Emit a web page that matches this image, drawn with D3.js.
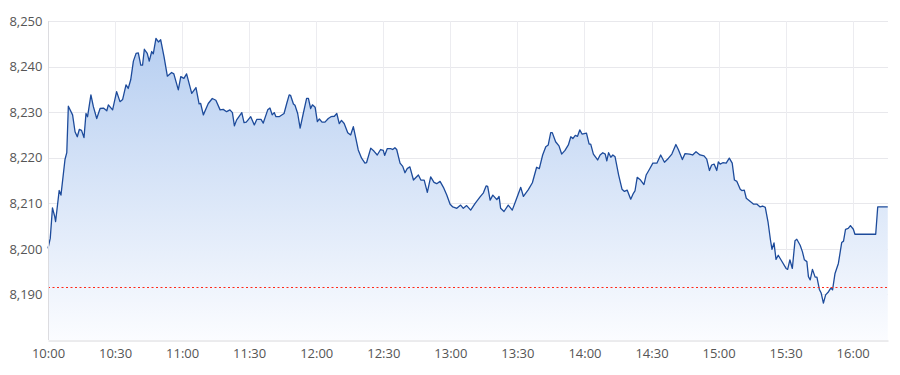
<!DOCTYPE html>
<html>
<head>
<meta charset="utf-8">
<script src="https://cdn.jsdelivr.net/npm/d3@7"></script>
<style>
  body { margin: 0; background: #fff; }
  svg { display: block; font-family: "Open Sans", "Noto Sans", sans-serif; }
</style>
</head>
<body>
<svg id="chart" width="900" height="375"></svg>
<script>
// minutes after 10:00
var minutes = [0,1,2,3,3.4,5,5.8,7.6,8.4,9.1,11,12.1,13.1,14,15,16.1,17,17.7,19.2,20.3,21.8,23.3,24.8,26.3,27,28.9,
  30.7,32.2,33.4,34.9,35.9,37,38.2,39.4,40.4,41.5,42.3,43.1,44.4,45.3,46.4,47.1,48.3,49.4,50.4,51.9,53.4,55.3,56.3,58.3,
  59.4,60.8,62,64.3,66.2,67.6,68.3,69.5,71.7,73.5,75.1,77,78.4,79.9,81.4,82.5,83.4,84.4,86.7,87.7,88.7,90.7,92.3,93.4,95.3,96.3,
  98.3,99.3,100.3,101.2,102,103.4,105.6,106.8,107.9,108.5,109.8,110.5,111.7,112.8,114.2,115.7,116.5,117.5,118.3,119.5,
  120.5,121.4,122.6,123.9,125.4,126.6,128.1,129.2,130.3,131.3,132.5,134.1,135.4,136.6,137.7,138.8,140.3,141.8,142.5,
  144.4,145.9,147.3,148.8,150,150.6,151.8,153.3,154.2,155.2,156,157.5,158.7,159.7,160.7,161.9,163.5,164.7,165.7,166.8,
  168.3,169.7,171.2,172.7,173.9,175.4,176.9,178.4,179.9,181.1,182.9,184.6,185.8,187.3,189.1,191.1,193.3,194.8,196,196.7,
  197.8,199,200.8,201.8,202.5,204,205.9,207.7,209.4,211.5,212.7,214.9,216.7,218.6,219.8,221.3,222.7,223.8,224.9,225.6,
  227.1,228.6,229.8,231.3,232.8,233.9,234.8,235.9,236.9,237.9,238.9,240.9,242.1,242.8,244,245.9,247,248.2,249.3,250,250.8,
  251.8,252.7,253.7,255.3,256.8,257.9,259.1,260.7,261.9,262.6,263.6,265.1,266.6,267.6,268.9,270.6,272.4,274.1,275.8,
  277.6,279.1,280.9,282,283.8,285,287,288.4,289.9,291.7,293.5,294.7,295.9,296.9,298,299.2,299.9,300.7,301.9,303.4,304.8,
  306.1,307.1,308.2,309.7,310.4,311.5,312.4,314.2,315.7,317.2,318.6,319.7,320.9,322.1,323.2,323.9,324.8,325.7,326.7,
  327.9,330.2,330.9,331.9,333,334.2,335,336.5,337.5,338.4,339.5,340.2,341,342,343.2,344,345.1,345.9,346.9,347.9,349.2,
  350.2,351,352.1,353.6,355.1,355.9,356.8,358,359,360.3,361,370.3,371.2,375.7];

var prices = [8200.1,8202.3,8209.0,8207.1,8206.0,8212.8,8211.8,8219.6,8221.1,8231.3,8229.4,8225.7,8224.6,8226.2,8226.0,8224.4,8229.7,8229.0,8233.8,8231.2,8228.6,8230.8,8230.9,8230.3,8231.6,8230.5,
  8234.5,8232.3,8232.8,8236.0,8235.2,8237.1,8241.2,8242.9,8243.0,8240.3,8240.3,8243.8,8242.9,8241.2,8243.3,8242.8,8246.2,8245.4,8245.9,8242.2,8237.9,8238.7,8238.4,8234.9,
  8237.8,8237.4,8238.4,8234.1,8235.4,8231.8,8231.9,8229.4,8231.9,8233.0,8232.6,8230.5,8230.6,8230.1,8230.5,8229.9,8227.0,8228.3,8229.9,8227.7,8227.8,8229.0,8227.2,8228.4,8228.4,8227.6,
  8230.5,8230.9,8229.4,8229.9,8229.0,8229.0,8229.7,8231.9,8233.8,8233.7,8231.8,8231.5,8229.7,8226.5,8229.7,8233.0,8233.0,8230.8,8231.6,8231.1,
  8227.9,8228.5,8227.8,8227.8,8228.6,8229.0,8229.1,8229.7,8227.5,8228.2,8227.5,8225.5,8225.0,8226.8,8224.3,8221.7,8219.9,8218.8,8218.9,
  8222.1,8221.4,8220.6,8221.8,8221.6,8220.5,8222.0,8222.0,8221.8,8222.2,8221.8,8218.8,8218.1,8216.7,8217.6,8218.0,8215.1,8215.7,8216.2,8215.1,
  8215.1,8212.4,8215.8,8214.6,8214.3,8214.8,8213.5,8211.8,8209.8,8209.2,8208.9,8209.6,8208.9,8209.5,8208.5,8210.0,8211.4,8212.3,8213.8,8213.7,
  8210.7,8211.8,8210.8,8211.5,8208.9,8208.2,8209.6,8208.5,8210.7,8213.5,8211.5,8213.0,8214.5,8217.9,8217.6,8220.6,8222.4,8222.8,8225.5,8225.5,
  8223.5,8222.6,8220.8,8221.6,8222.8,8224.6,8224.2,8224.9,8224.7,8226.1,8225.2,8225.4,8223.0,8223.0,8220.8,8219.5,8220.6,8221.1,8220.8,8219.3,8221.1,
  8220.1,8220.6,8220.2,8216.2,8213.1,8212.6,8212.9,8210.9,8212.2,8212.7,8215.7,8215.1,8214.1,8216.2,8217.3,8218.8,8218.8,8220.6,8219.0,
  8219.9,8220.8,8222.9,8221.8,8219.6,8220.9,8220.8,8220.6,8221.3,8220.6,8220.4,8219.7,8217.2,8218.4,8218.6,8217.2,8219.1,8218.6,8218.9,8218.8,8219.9,
  8218.8,8215.1,8214.8,8213.1,8212.8,8212.9,8211.1,8210.4,8209.8,8209.8,8209.2,8209.4,8209.1,8206.0,8202.0,8199.9,8201.3,8197.7,8198.6,
  8197.6,8195.7,8195.5,8197.6,8195.7,8201.8,8202.1,8200.8,8199.4,8197.6,8197.2,8193.9,8193.2,8195.5,8193.8,8193.8,8191.1,8190.3,8188.1,8189.9,8190.6,
  8191.4,8191.0,8194.6,8196.8,8201.4,8201.7,8204.3,8204.5,8205.1,8204.3,8203.2,8203.2,8209.2,8209.2];

var prevClose = 8191.7;
var yTicks = [8190, 8200, 8210, 8220, 8230, 8240, 8250];
var xTickLabels = ['10:00','10:30','11:00','11:30','12:00','12:30','13:00','13:30','14:00','14:30','15:00','15:30','16:00'];

var svg = d3.select('#chart');
var margin = {left: 48, right: 12, top: 21, bottom: 35},
  width = 900 - margin.left - margin.right,
  height = 375 - margin.top - margin.bottom;

var open = new Date(2024, 0, 2, 10, 0);
var parseTick = d3.timeParse('%H:%M');
var toDate = function(m){ return new Date(open.getTime() + m * 60000); };
var data = minutes.map(function(m, i){ return {t: toDate(m), v: prices[i]}; });

var x = d3.scaleTime()
  .domain([open, toDate(375.8)])
  .range([margin.left, margin.left + width]);
var y = d3.scaleLinear()
  .domain([8180, 8250])
  .range([margin.top + height, margin.top]);

var xTicks = xTickLabels.map(function(s){
  var p = parseTick(s);
  return new Date(2024, 0, 2, p.getHours(), p.getMinutes());
});

var defs = svg.append('defs');
var grad = defs.append('linearGradient')
  .attr('id', 'areaFill')
  .attr('gradientUnits', 'userSpaceOnUse')
  .attr('x1', 0).attr('x2', 0)
  .attr('y1', y(8250)).attr('y2', y(8180));
grad.append('stop').attr('offset', '0%').attr('stop-color', '#b3ccf0');
grad.append('stop').attr('offset', '100%').attr('stop-color', '#fbfcff');

// grid
var grid = svg.append('g').attr('class', 'grid');
grid.selectAll('line.h')
  .data(yTicks)
  .enter().append('line')
  .attr('class', 'h')
  .attr('x1', margin.left).attr('x2', margin.left + width)
  .attr('y1', function(d){ return Math.round(y(d)) + 0.5; })
  .attr('y2', function(d){ return Math.round(y(d)) + 0.5; })
  .style('stroke', '#e8e8ec');
grid.selectAll('line.v')
  .data(xTicks.slice(1))
  .enter().append('line')
  .attr('class', 'v')
  .attr('y1', margin.top).attr('y2', margin.top + height)
  .attr('x1', function(d){ return Math.round(x(d)) + 0.5; })
  .attr('x2', function(d){ return Math.round(x(d)) + 0.5; })
  .style('stroke', '#ececf0');

// area + line
var area = d3.area()
  .x(function(d){ return x(d.t); })
  .y0(y(8180))
  .y1(function(d){ return y(d.v); });
var line = d3.line()
  .x(function(d){ return x(d.t); })
  .y(function(d){ return y(d.v); });

svg.append('path')
  .datum(data)
  .attr('d', area)
  .style('fill', 'url(#areaFill)');

svg.append('path')
  .datum(data)
  .attr('d', line)
  .style('fill', 'none')
  .style('stroke', '#1d4b9b')
  .style('stroke-width', 1.3)
  .style('stroke-linejoin', 'round');

// previous close
svg.append('path')
  .attr('d', 'M' + margin.left + ',' + (Math.round(y(prevClose)) + 0.5) + 'H' + (margin.left + width))
  .attr('fill', 'none')
  .attr('stroke', '#ff2a1a')
  .attr('stroke-width', 1.2)
  .attr('stroke-dasharray', '2,2.5');

// axes
var yAxis = svg.append('g')
  .attr('transform', 'translate(' + (margin.left + 0.5) + ',0)')
  .call(d3.axisLeft(y).tickValues(yTicks).tickFormat(d3.format(',')).tickSize(0).tickPadding(6));
yAxis.select('.domain').style('stroke', '#dcdce0').attr('d', 'M0,' + margin.top + 'V' + (margin.top + height));

var xAxis = svg.append('g')
  .attr('transform', 'translate(0,' + (margin.top + height + 0.5) + ')')
  .call(d3.axisBottom(x).tickValues(xTicks).tickFormat(d3.timeFormat('%H:%M')).tickSize(0).tickPadding(8));
xAxis.select('.domain').style('stroke', '#d8d8dc');

svg.selectAll('.tick text')
  .style('font-size', '13px')
  .style('fill', '#555')
  .style('font-family', '"Open Sans", "Noto Sans", sans-serif');
</script>
</body>
</html>
